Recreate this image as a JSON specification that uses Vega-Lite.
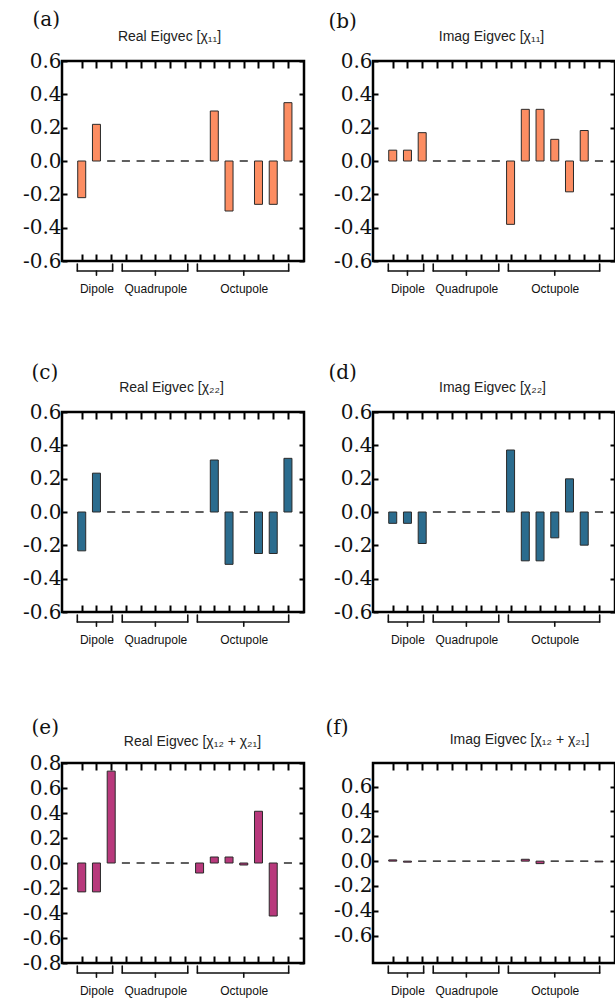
{
  "$schema": "https://vega.github.io/schema/vega-lite/v6.json",
  "autosize": {"type": "pad"},
  "padding": {"left": 21, "top": 7, "right": 0, "bottom": 0},
  "background": "white",
  "bounds": "flush",
  "columns": 2,
  "spacing": {"row": 151, "column": 69},
  "config": {
    "view": {"stroke": "black", "strokeWidth": 2.5},
    "axis": {"tickColor": "black", "labelColor": "#111", "domain": false, "grid": false, "titleColor": "#111"}
  },
  "datasets": {
    "groups": [
      {"group": "Dipole", "start": -0.3, "mid": 1, "end": 2.1},
      {"group": "Quadrupole", "start": 2.75, "mid": 5, "end": 7.2},
      {"group": "Octupole", "start": 7.85, "mid": 11, "end": 14.05}
    ],
    "a": [
      {"idx": 0, "value": -0.22}, {"idx": 1, "value": 0.22}, {"idx": 2, "value": 0},
      {"idx": 3, "value": 0}, {"idx": 4, "value": 0}, {"idx": 5, "value": 0}, {"idx": 6, "value": 0}, {"idx": 7, "value": 0},
      {"idx": 8, "value": 0}, {"idx": 9, "value": 0.3}, {"idx": 10, "value": -0.3}, {"idx": 11, "value": 0},
      {"idx": 12, "value": -0.26}, {"idx": 13, "value": -0.26}, {"idx": 14, "value": 0.35}
    ],
    "b": [
      {"idx": 0, "value": 0.065}, {"idx": 1, "value": 0.065}, {"idx": 2, "value": 0.17},
      {"idx": 3, "value": 0}, {"idx": 4, "value": 0}, {"idx": 5, "value": 0}, {"idx": 6, "value": 0}, {"idx": 7, "value": 0},
      {"idx": 8, "value": -0.38}, {"idx": 9, "value": 0.31}, {"idx": 10, "value": 0.31}, {"idx": 11, "value": 0.13},
      {"idx": 12, "value": -0.185}, {"idx": 13, "value": 0.183}, {"idx": 14, "value": 0}
    ],
    "c": [
      {"idx": 0, "value": -0.233}, {"idx": 1, "value": 0.233}, {"idx": 2, "value": 0},
      {"idx": 3, "value": 0}, {"idx": 4, "value": 0}, {"idx": 5, "value": 0}, {"idx": 6, "value": 0}, {"idx": 7, "value": 0},
      {"idx": 8, "value": 0}, {"idx": 9, "value": 0.312}, {"idx": 10, "value": -0.314}, {"idx": 11, "value": 0},
      {"idx": 12, "value": -0.249}, {"idx": 13, "value": -0.249}, {"idx": 14, "value": 0.322}
    ],
    "d": [
      {"idx": 0, "value": -0.068}, {"idx": 1, "value": -0.068}, {"idx": 2, "value": -0.189},
      {"idx": 3, "value": 0}, {"idx": 4, "value": 0}, {"idx": 5, "value": 0}, {"idx": 6, "value": 0}, {"idx": 7, "value": 0},
      {"idx": 8, "value": 0.372}, {"idx": 9, "value": -0.293}, {"idx": 10, "value": -0.293}, {"idx": 11, "value": -0.155},
      {"idx": 12, "value": 0.199}, {"idx": 13, "value": -0.199}, {"idx": 14, "value": 0}
    ],
    "e": [
      {"idx": 0, "value": -0.231}, {"idx": 1, "value": -0.231}, {"idx": 2, "value": 0.735},
      {"idx": 3, "value": 0}, {"idx": 4, "value": 0}, {"idx": 5, "value": 0}, {"idx": 6, "value": 0}, {"idx": 7, "value": 0},
      {"idx": 8, "value": -0.08}, {"idx": 9, "value": 0.048}, {"idx": 10, "value": 0.048}, {"idx": 11, "value": -0.016},
      {"idx": 12, "value": 0.414}, {"idx": 13, "value": -0.424}, {"idx": 14, "value": 0}
    ],
    "f": [
      {"idx": 0, "value": 0.01}, {"idx": 1, "value": -0.008}, {"idx": 2, "value": 0},
      {"idx": 3, "value": 0}, {"idx": 4, "value": 0}, {"idx": 5, "value": 0}, {"idx": 6, "value": 0}, {"idx": 7, "value": 0},
      {"idx": 8, "value": 0}, {"idx": 9, "value": 0.015}, {"idx": 10, "value": -0.02}, {"idx": 11, "value": 0},
      {"idx": 12, "value": 0}, {"idx": 13, "value": 0}, {"idx": 14, "value": -0.006}
    ]
  },
  "concat": [
    {
      "width": 242, "height": 200,
      "resolve": {"axis": {"x": "independent", "y": "independent"}},
      "layer": [
        {
          "data": {"name": "a"},
          "mark": {"type": "bar", "orient": "vertical", "width": 8, "fill": "#fc8d62", "stroke": "#2a2a2a", "strokeWidth": 1},
          "encoding": {
            "x": {"field": "idx", "type": "quantitative", "scale": {"domain": [-1, 14.75], "nice": false, "zero": false},
              "axis": {"orient": "bottom", "values": [0,1,2,3,4,5,6,7,8,9,10,11,12,13,14], "tickSize": -7, "tickWidth": 2, "labelOverlap": false, "labelFlush": false,
                "labelExpr": "datum.value == 1 ? 'Dipole' : datum.value == 5 ? 'Quadrupole' : datum.value == 11 ? 'Octupole' : ''",
                "labelFont": "Liberation Sans", "labelFontSize": 12, "labelPadding": 29, "title": null}},
            "y": {"field": "value", "type": "quantitative", "stack": null, "scale": {"domain": [-0.6, 0.6], "nice": false},
              "axis": {"orient": "left", "values": [-0.6,-0.4,-0.2,0,0.2,0.4,0.6], "tickSize": -5, "tickWidth": 2,
                "labelExpr": "datum.value < -0.001 ? '-' + format(-datum.value, '.1f') : format(datum.value, '.1f')",
                "labelFont": "DejaVu Serif", "labelFontSize": 20, "labelPadding": 6,
                "title": "(a)", "titleAngle": 0, "titleX": -30, "titleY": -36, "titleAlign": "left", "titleBaseline": "alphabetic",
                "titleFont": "DejaVu Serif", "titleFontSize": 20, "titleFontWeight": "normal"}}
          }
        },
        {
          "data": {"name": "a"},
          "mark": {"type": "point", "opacity": 0},
          "encoding": {
            "x": {"field": "idx", "type": "quantitative", "axis": {"orient": "top", "values": [0,1,2,3,4,5,6,7,8,9,10,11,12,13,14], "tickSize": -7, "tickWidth": 2, "labels": false,
              "title": "Real Eigvec [χ₁₁]", "titleFont": "Liberation Sans", "titleFontSize": 14, "titleFontWeight": "normal", "titleColor": "#222",
              "titleX": 107, "titleY": -21, "titleAlign": "center", "titleBaseline": "alphabetic"}},
            "y": {"field": "value", "type": "quantitative", "axis": {"orient": "right", "values": [-0.6,-0.4,-0.2,0,0.2,0.4,0.6], "tickSize": -5, "tickWidth": 2, "labels": false, "title": null}}
          }
        },
        {
          "data": {"name": "groups"},
          "mark": {"type": "rule", "color": "#111", "strokeWidth": 1.6, "strokeCap": "round"},
          "encoding": {"x": {"field": "start", "type": "quantitative", "axis": null}, "x2": {"field": "end"}, "y": {"datum": -0.66, "axis": null}}
        },
        {
          "data": {"name": "groups"},
          "transform": [{"fold": ["start", "end"], "as": ["side", "pos"]}],
          "mark": {"type": "rule", "color": "#111", "strokeWidth": 1.6, "strokeCap": "round"},
          "encoding": {"x": {"field": "pos", "type": "quantitative", "axis": null}, "y": {"datum": -0.618, "axis": null}, "y2": {"datum": -0.66}}
        },
        {
          "data": {"name": "groups"},
          "mark": {"type": "rule", "color": "#111", "strokeWidth": 1.6, "strokeCap": "round"},
          "encoding": {"x": {"field": "mid", "type": "quantitative", "axis": null}, "y": {"datum": -0.66, "axis": null}, "y2": {"datum": -0.685}}
        }
      ]
    },
    {
      "width": 242, "height": 200,
      "resolve": {"axis": {"x": "independent", "y": "independent"}},
      "layer": [
        {
          "data": {"name": "b"},
          "mark": {"type": "bar", "orient": "vertical", "width": 8, "fill": "#fc8d62", "stroke": "#2a2a2a", "strokeWidth": 1},
          "encoding": {
            "x": {"field": "idx", "type": "quantitative", "scale": {"domain": [-1, 14.75], "nice": false, "zero": false},
              "axis": {"orient": "bottom", "values": [0,1,2,3,4,5,6,7,8,9,10,11,12,13,14], "tickSize": -7, "tickWidth": 2, "labelOverlap": false, "labelFlush": false,
                "labelExpr": "datum.value == 1 ? 'Dipole' : datum.value == 5 ? 'Quadrupole' : datum.value == 11 ? 'Octupole' : ''",
                "labelFont": "Liberation Sans", "labelFontSize": 12, "labelPadding": 29, "title": null}},
            "y": {"field": "value", "type": "quantitative", "stack": null, "scale": {"domain": [-0.6, 0.6], "nice": false},
              "axis": {"orient": "left", "values": [-0.6,-0.4,-0.2,0,0.2,0.4,0.6], "tickSize": -5, "tickWidth": 2,
                "labelExpr": "datum.value < -0.001 ? '-' + format(-datum.value, '.1f') : format(datum.value, '.1f')",
                "labelFont": "DejaVu Serif", "labelFontSize": 20, "labelPadding": 6,
                "title": "(b)", "titleAngle": 0, "titleX": -45, "titleY": -34, "titleAlign": "left", "titleBaseline": "alphabetic",
                "titleFont": "DejaVu Serif", "titleFontSize": 20, "titleFontWeight": "normal"}}
          }
        },
        {
          "data": {"name": "b"},
          "mark": {"type": "point", "opacity": 0},
          "encoding": {
            "x": {"field": "idx", "type": "quantitative", "axis": {"orient": "top", "values": [0,1,2,3,4,5,6,7,8,9,10,11,12,13,14], "tickSize": -7, "tickWidth": 2, "labels": false,
              "title": "Imag Eigvec [χ₁₁]", "titleFont": "Liberation Sans", "titleFontSize": 14, "titleFontWeight": "normal", "titleColor": "#222",
              "titleX": 118, "titleY": -21, "titleAlign": "center", "titleBaseline": "alphabetic"}},
            "y": {"field": "value", "type": "quantitative", "axis": {"orient": "right", "values": [-0.6,-0.4,-0.2,0,0.2,0.4,0.6], "tickSize": -5, "tickWidth": 2, "labels": false, "title": null}}
          }
        },
        {
          "data": {"name": "groups"},
          "mark": {"type": "rule", "color": "#111", "strokeWidth": 1.6, "strokeCap": "round"},
          "encoding": {"x": {"field": "start", "type": "quantitative", "axis": null}, "x2": {"field": "end"}, "y": {"datum": -0.66, "axis": null}}
        },
        {
          "data": {"name": "groups"},
          "transform": [{"fold": ["start", "end"], "as": ["side", "pos"]}],
          "mark": {"type": "rule", "color": "#111", "strokeWidth": 1.6, "strokeCap": "round"},
          "encoding": {"x": {"field": "pos", "type": "quantitative", "axis": null}, "y": {"datum": -0.618, "axis": null}, "y2": {"datum": -0.66}}
        },
        {
          "data": {"name": "groups"},
          "mark": {"type": "rule", "color": "#111", "strokeWidth": 1.6, "strokeCap": "round"},
          "encoding": {"x": {"field": "mid", "type": "quantitative", "axis": null}, "y": {"datum": -0.66, "axis": null}, "y2": {"datum": -0.685}}
        }
      ]
    },
    {
      "width": 242, "height": 200,
      "resolve": {"axis": {"x": "independent", "y": "independent"}},
      "layer": [
        {
          "data": {"name": "c"},
          "mark": {"type": "bar", "orient": "vertical", "width": 8, "fill": "#2b6c8e", "stroke": "#2a2a2a", "strokeWidth": 1},
          "encoding": {
            "x": {"field": "idx", "type": "quantitative", "scale": {"domain": [-1, 14.75], "nice": false, "zero": false},
              "axis": {"orient": "bottom", "values": [0,1,2,3,4,5,6,7,8,9,10,11,12,13,14], "tickSize": -7, "tickWidth": 2, "labelOverlap": false, "labelFlush": false,
                "labelExpr": "datum.value == 1 ? 'Dipole' : datum.value == 5 ? 'Quadrupole' : datum.value == 11 ? 'Octupole' : ''",
                "labelFont": "Liberation Sans", "labelFontSize": 12, "labelPadding": 29, "title": null}},
            "y": {"field": "value", "type": "quantitative", "stack": null, "scale": {"domain": [-0.6, 0.6], "nice": false},
              "axis": {"orient": "left", "values": [-0.6,-0.4,-0.2,0,0.2,0.4,0.6], "tickSize": -5, "tickWidth": 2,
                "labelExpr": "datum.value < -0.001 ? '-' + format(-datum.value, '.1f') : format(datum.value, '.1f')",
                "labelFont": "DejaVu Serif", "labelFontSize": 20, "labelPadding": 6,
                "title": "(c)", "titleAngle": 0, "titleX": -31, "titleY": -34, "titleAlign": "left", "titleBaseline": "alphabetic",
                "titleFont": "DejaVu Serif", "titleFontSize": 20, "titleFontWeight": "normal"}}
          }
        },
        {
          "data": {"name": "c"},
          "mark": {"type": "point", "opacity": 0},
          "encoding": {
            "x": {"field": "idx", "type": "quantitative", "axis": {"orient": "top", "values": [0,1,2,3,4,5,6,7,8,9,10,11,12,13,14], "tickSize": -7, "tickWidth": 2, "labels": false,
              "title": "Real Eigvec [χ₂₂]", "titleFont": "Liberation Sans", "titleFontSize": 14, "titleFontWeight": "normal", "titleColor": "#222",
              "titleX": 109, "titleY": -21, "titleAlign": "center", "titleBaseline": "alphabetic"}},
            "y": {"field": "value", "type": "quantitative", "axis": {"orient": "right", "values": [-0.6,-0.4,-0.2,0,0.2,0.4,0.6], "tickSize": -5, "tickWidth": 2, "labels": false, "title": null}}
          }
        },
        {
          "data": {"name": "groups"},
          "mark": {"type": "rule", "color": "#111", "strokeWidth": 1.6, "strokeCap": "round"},
          "encoding": {"x": {"field": "start", "type": "quantitative", "axis": null}, "x2": {"field": "end"}, "y": {"datum": -0.66, "axis": null}}
        },
        {
          "data": {"name": "groups"},
          "transform": [{"fold": ["start", "end"], "as": ["side", "pos"]}],
          "mark": {"type": "rule", "color": "#111", "strokeWidth": 1.6, "strokeCap": "round"},
          "encoding": {"x": {"field": "pos", "type": "quantitative", "axis": null}, "y": {"datum": -0.618, "axis": null}, "y2": {"datum": -0.66}}
        },
        {
          "data": {"name": "groups"},
          "mark": {"type": "rule", "color": "#111", "strokeWidth": 1.6, "strokeCap": "round"},
          "encoding": {"x": {"field": "mid", "type": "quantitative", "axis": null}, "y": {"datum": -0.66, "axis": null}, "y2": {"datum": -0.685}}
        }
      ]
    },
    {
      "width": 242, "height": 200,
      "resolve": {"axis": {"x": "independent", "y": "independent"}},
      "layer": [
        {
          "data": {"name": "d"},
          "mark": {"type": "bar", "orient": "vertical", "width": 8, "fill": "#2b6c8e", "stroke": "#2a2a2a", "strokeWidth": 1},
          "encoding": {
            "x": {"field": "idx", "type": "quantitative", "scale": {"domain": [-1, 14.75], "nice": false, "zero": false},
              "axis": {"orient": "bottom", "values": [0,1,2,3,4,5,6,7,8,9,10,11,12,13,14], "tickSize": -7, "tickWidth": 2, "labelOverlap": false, "labelFlush": false,
                "labelExpr": "datum.value == 1 ? 'Dipole' : datum.value == 5 ? 'Quadrupole' : datum.value == 11 ? 'Octupole' : ''",
                "labelFont": "Liberation Sans", "labelFontSize": 12, "labelPadding": 29, "title": null}},
            "y": {"field": "value", "type": "quantitative", "stack": null, "scale": {"domain": [-0.6, 0.6], "nice": false},
              "axis": {"orient": "left", "values": [-0.6,-0.4,-0.2,0,0.2,0.4,0.6], "tickSize": -5, "tickWidth": 2,
                "labelExpr": "datum.value < -0.001 ? '-' + format(-datum.value, '.1f') : format(datum.value, '.1f')",
                "labelFont": "DejaVu Serif", "labelFontSize": 20, "labelPadding": 6,
                "title": "(d)", "titleAngle": 0, "titleX": -45, "titleY": -34, "titleAlign": "left", "titleBaseline": "alphabetic",
                "titleFont": "DejaVu Serif", "titleFontSize": 20, "titleFontWeight": "normal"}}
          }
        },
        {
          "data": {"name": "d"},
          "mark": {"type": "point", "opacity": 0},
          "encoding": {
            "x": {"field": "idx", "type": "quantitative", "axis": {"orient": "top", "values": [0,1,2,3,4,5,6,7,8,9,10,11,12,13,14], "tickSize": -7, "tickWidth": 2, "labels": false,
              "title": "Imag Eigvec [χ₂₂]", "titleFont": "Liberation Sans", "titleFontSize": 14, "titleFontWeight": "normal", "titleColor": "#222",
              "titleX": 119, "titleY": -21, "titleAlign": "center", "titleBaseline": "alphabetic"}},
            "y": {"field": "value", "type": "quantitative", "axis": {"orient": "right", "values": [-0.6,-0.4,-0.2,0,0.2,0.4,0.6], "tickSize": -5, "tickWidth": 2, "labels": false, "title": null}}
          }
        },
        {
          "data": {"name": "groups"},
          "mark": {"type": "rule", "color": "#111", "strokeWidth": 1.6, "strokeCap": "round"},
          "encoding": {"x": {"field": "start", "type": "quantitative", "axis": null}, "x2": {"field": "end"}, "y": {"datum": -0.66, "axis": null}}
        },
        {
          "data": {"name": "groups"},
          "transform": [{"fold": ["start", "end"], "as": ["side", "pos"]}],
          "mark": {"type": "rule", "color": "#111", "strokeWidth": 1.6, "strokeCap": "round"},
          "encoding": {"x": {"field": "pos", "type": "quantitative", "axis": null}, "y": {"datum": -0.618, "axis": null}, "y2": {"datum": -0.66}}
        },
        {
          "data": {"name": "groups"},
          "mark": {"type": "rule", "color": "#111", "strokeWidth": 1.6, "strokeCap": "round"},
          "encoding": {"x": {"field": "mid", "type": "quantitative", "axis": null}, "y": {"datum": -0.66, "axis": null}, "y2": {"datum": -0.685}}
        }
      ]
    },
    {
      "width": 242, "height": 200,
      "resolve": {"axis": {"x": "independent", "y": "independent"}},
      "layer": [
        {
          "data": {"name": "e"},
          "mark": {"type": "bar", "orient": "vertical", "width": 8, "fill": "#b8397c", "stroke": "#2a2a2a", "strokeWidth": 1},
          "encoding": {
            "x": {"field": "idx", "type": "quantitative", "scale": {"domain": [-1, 14.75], "nice": false, "zero": false},
              "axis": {"orient": "bottom", "values": [0,1,2,3,4,5,6,7,8,9,10,11,12,13,14], "tickSize": -7, "tickWidth": 2, "labelOverlap": false, "labelFlush": false,
                "labelExpr": "datum.value == 1 ? 'Dipole' : datum.value == 5 ? 'Quadrupole' : datum.value == 11 ? 'Octupole' : ''",
                "labelFont": "Liberation Sans", "labelFontSize": 12, "labelPadding": 29, "title": null}},
            "y": {"field": "value", "type": "quantitative", "stack": null, "scale": {"domain": [-0.8, 0.8], "nice": false},
              "axis": {"orient": "left", "values": [-0.8,-0.6,-0.4,-0.2,0,0.2,0.4,0.6,0.8], "tickSize": -5, "tickWidth": 2,
                "labelExpr": "datum.value < -0.001 ? '-' + format(-datum.value, '.1f') : format(datum.value, '.1f')",
                "labelFont": "DejaVu Serif", "labelFontSize": 20, "labelPadding": 6,
                "title": "(e)", "titleAngle": 0, "titleX": -31, "titleY": -30, "titleAlign": "left", "titleBaseline": "alphabetic",
                "titleFont": "DejaVu Serif", "titleFontSize": 20, "titleFontWeight": "normal"}}
          }
        },
        {
          "data": {"name": "e"},
          "mark": {"type": "point", "opacity": 0},
          "encoding": {
            "x": {"field": "idx", "type": "quantitative", "axis": {"orient": "top", "values": [0,1,2,3,4,5,6,7,8,9,10,11,12,13,14], "tickSize": -7, "tickWidth": 2, "labels": false,
              "title": "Real Eigvec [χ₁₂ + χ₂₁]", "titleFont": "Liberation Sans", "titleFontSize": 14, "titleFontWeight": "normal", "titleColor": "#222",
              "titleX": 130, "titleY": -18, "titleAlign": "center", "titleBaseline": "alphabetic"}},
            "y": {"field": "value", "type": "quantitative", "axis": {"orient": "right", "values": [-0.8,-0.6,-0.4,-0.2,0,0.2,0.4,0.6,0.8], "tickSize": -5, "tickWidth": 2, "labels": false, "title": null}}
          }
        },
        {
          "data": {"name": "groups"},
          "mark": {"type": "rule", "color": "#111", "strokeWidth": 1.6, "strokeCap": "round"},
          "encoding": {"x": {"field": "start", "type": "quantitative", "axis": null}, "x2": {"field": "end"}, "y": {"datum": -0.88, "axis": null}}
        },
        {
          "data": {"name": "groups"},
          "transform": [{"fold": ["start", "end"], "as": ["side", "pos"]}],
          "mark": {"type": "rule", "color": "#111", "strokeWidth": 1.6, "strokeCap": "round"},
          "encoding": {"x": {"field": "pos", "type": "quantitative", "axis": null}, "y": {"datum": -0.824, "axis": null}, "y2": {"datum": -0.88}}
        },
        {
          "data": {"name": "groups"},
          "mark": {"type": "rule", "color": "#111", "strokeWidth": 1.6, "strokeCap": "round"},
          "encoding": {"x": {"field": "mid", "type": "quantitative", "axis": null}, "y": {"datum": -0.88, "axis": null}, "y2": {"datum": -0.913}}
        }
      ]
    },
    {
      "width": 242, "height": 200,
      "resolve": {"axis": {"x": "independent", "y": "independent"}},
      "layer": [
        {
          "data": {"name": "f"},
          "mark": {"type": "bar", "orient": "vertical", "width": 8, "fill": "#b8397c", "stroke": "#2a2a2a", "strokeWidth": 1},
          "encoding": {
            "x": {"field": "idx", "type": "quantitative", "scale": {"domain": [-1, 14.75], "nice": false, "zero": false},
              "axis": {"orient": "bottom", "values": [0,1,2,3,4,5,6,7,8,9,10,11,12,13,14], "tickSize": -7, "tickWidth": 2, "labelOverlap": false, "labelFlush": false,
                "labelExpr": "datum.value == 1 ? 'Dipole' : datum.value == 5 ? 'Quadrupole' : datum.value == 11 ? 'Octupole' : ''",
                "labelFont": "Liberation Sans", "labelFontSize": 12, "labelPadding": 29, "title": null}},
            "y": {"field": "value", "type": "quantitative", "stack": null, "scale": {"domain": [-0.82, 0.79], "nice": false},
              "axis": {"orient": "left", "values": [-0.6,-0.4,-0.2,0,0.2,0.4,0.6], "tickSize": -5, "tickWidth": 2,
                "labelExpr": "datum.value < -0.001 ? '-' + format(-datum.value, '.1f') : format(datum.value, '.1f')",
                "labelFont": "DejaVu Serif", "labelFontSize": 20, "labelPadding": 6,
                "title": "(f)", "titleAngle": 0, "titleX": -48, "titleY": -30, "titleAlign": "left", "titleBaseline": "alphabetic",
                "titleFont": "DejaVu Serif", "titleFontSize": 20, "titleFontWeight": "normal"}}
          }
        },
        {
          "data": {"name": "f"},
          "mark": {"type": "point", "opacity": 0},
          "encoding": {
            "x": {"field": "idx", "type": "quantitative", "axis": {"orient": "top", "values": [0,1,2,3,4,5,6,7,8,9,10,11,12,13,14], "tickSize": -7, "tickWidth": 2, "labels": false,
              "title": "Imag Eigvec [χ₁₂ + χ₂₁]", "titleFont": "Liberation Sans", "titleFontSize": 14, "titleFontWeight": "normal", "titleColor": "#222",
              "titleX": 146, "titleY": -20, "titleAlign": "center", "titleBaseline": "alphabetic"}},
            "y": {"field": "value", "type": "quantitative", "axis": {"orient": "right", "values": [-0.6,-0.4,-0.2,0,0.2,0.4,0.6], "tickSize": -5, "tickWidth": 2, "labels": false, "title": null}}
          }
        },
        {
          "data": {"name": "groups"},
          "mark": {"type": "rule", "color": "#111", "strokeWidth": 1.6, "strokeCap": "round"},
          "encoding": {"x": {"field": "start", "type": "quantitative", "axis": null}, "x2": {"field": "end"}, "y": {"datum": -0.90, "axis": null}}
        },
        {
          "data": {"name": "groups"},
          "transform": [{"fold": ["start", "end"], "as": ["side", "pos"]}],
          "mark": {"type": "rule", "color": "#111", "strokeWidth": 1.6, "strokeCap": "round"},
          "encoding": {"x": {"field": "pos", "type": "quantitative", "axis": null}, "y": {"datum": -0.844, "axis": null}, "y2": {"datum": -0.90}}
        },
        {
          "data": {"name": "groups"},
          "mark": {"type": "rule", "color": "#111", "strokeWidth": 1.6, "strokeCap": "round"},
          "encoding": {"x": {"field": "mid", "type": "quantitative", "axis": null}, "y": {"datum": -0.90, "axis": null}, "y2": {"datum": -0.933}}
        }
      ]
    }
  ]
}
